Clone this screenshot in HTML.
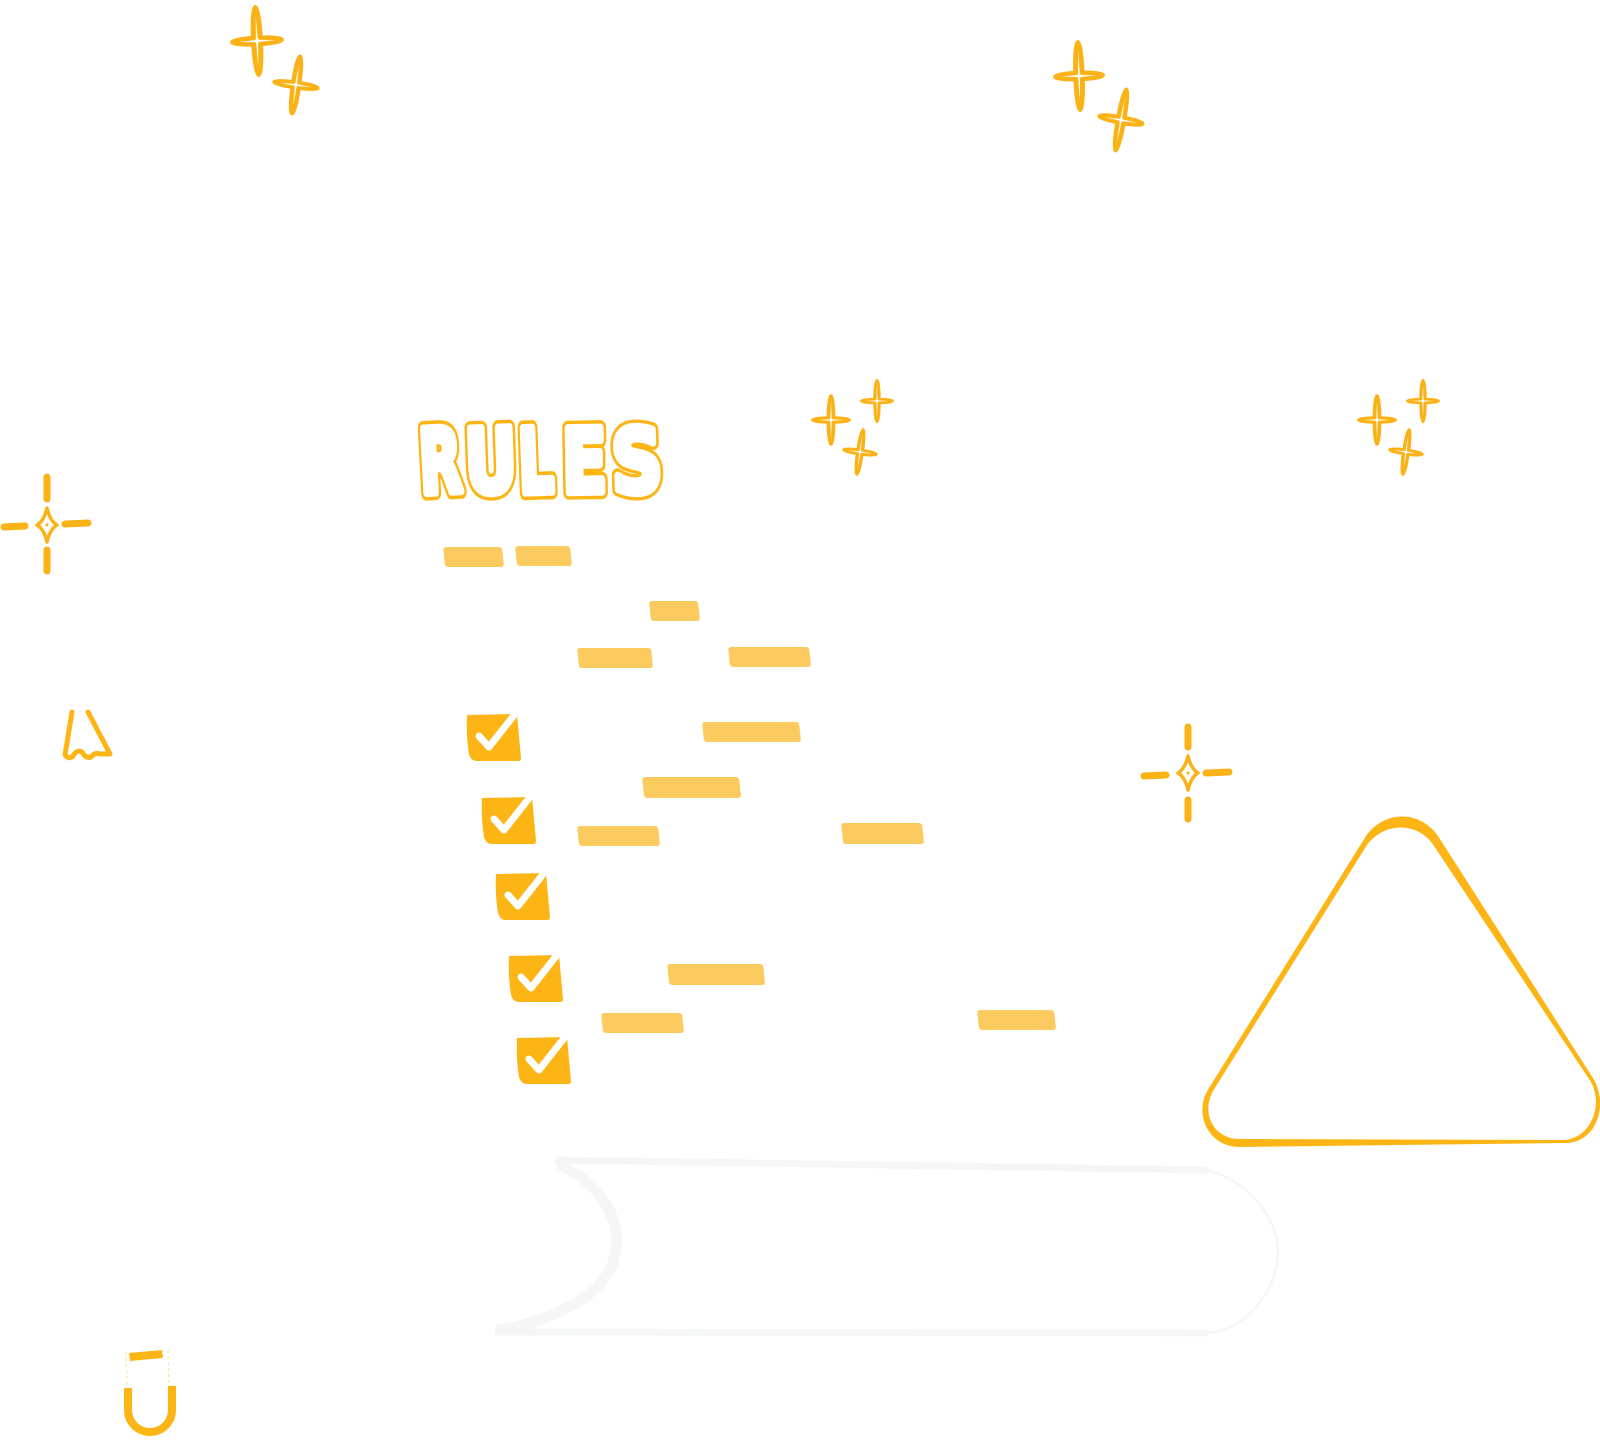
<!DOCTYPE html>
<html>
<head>
<meta charset="utf-8">
<style>
  html, body { margin: 0; padding: 0; background: #ffffff; }
  svg { display: block; }
</style>
</head>
<body>
<svg width="1600" height="1441" viewBox="0 0 1600 1441" xmlns="http://www.w3.org/2000/svg">
  <defs>
    <g id="st">
      <ellipse cx="0" cy="0" rx="3.5" ry="32" fill="#fbb217" stroke="#fbb217" stroke-width="4"/>
      <ellipse cx="0" cy="0" rx="23" ry="3" fill="#fbb217" stroke="#fbb217" stroke-width="4"/>
      <path d="M0,-24 L0.9,-1 L17,0 L0.9,1 L0,24 L-0.9,1 L-17,0 L-0.9,-1 Z" fill="#ffffff"/>
      <path d="M0,-4 L2.2,0 L0,4 L-2.2,0 Z" fill="#ffffff"/>
    </g>
    <g id="cb">
      <path d="M0,1 L50,0 L54,44 Q54,47 51,47 L10,47 Q4,47 2,40 Q-1,22 0,1 Z" fill="#fdb515"/>
      <polyline points="12,22 22,33 48,0" fill="none" stroke="#ffffff" stroke-width="7" stroke-linecap="round" stroke-linejoin="round"/>
    </g>
    <path id="dia" d="M0,-17 Q3,-4 10,0 Q3,4 0,17 Q-3,4 -10,0 Q-3,-4 0,-17 Z" fill="#ffffff" stroke="#fbb217" stroke-width="3.5" stroke-linejoin="round"/>
  </defs>

  <rect width="1600" height="1441" fill="#ffffff"/>

  <!-- faint book -->
  <g fill="none" stroke="#f5f7f6" stroke-linecap="round">
    <path d="M558,1160 L1206,1170" stroke-width="7"/>
    <path d="M562,1166 C610,1190 625,1230 612,1265 C598,1300 545,1322 500,1330" stroke-width="11"/>
    <path d="M498,1332 L1206,1333" stroke-width="7"/>
    <path d="M1206,1170 C1250,1180 1278,1220 1278,1252 C1278,1290 1245,1332 1206,1333" stroke-width="2.5"/>
  </g>

  <!-- sparkle stars -->
  <use href="#st" transform="translate(257,41) rotate(-3) scale(1.08,1.06)"/>
  <use href="#st" transform="translate(296,85) rotate(8) scale(0.96,0.91)"/>
  <use href="#st" transform="translate(1079,76) rotate(-2) scale(1.04,1.06)"/>
  <use href="#st" transform="translate(1121,120) rotate(10) scale(0.96,0.97)"/>
  <use href="#st" transform="translate(831,420) scale(0.8,0.76)"/>
  <use href="#st" transform="translate(877,401) scale(0.68,0.65)"/>
  <use href="#st" transform="translate(860,452) rotate(8) scale(0.72,0.71)"/>
  <use href="#st" transform="translate(1377,420) scale(0.8,0.76)"/>
  <use href="#st" transform="translate(1423,401) scale(0.68,0.65)"/>
  <use href="#st" transform="translate(1406,452) rotate(8) scale(0.72,0.71)"/>

  <!-- crosshair sparkles -->
  <g stroke="#fbb217" stroke-width="7" stroke-linecap="round">
    <line x1="47" y1="477" x2="47" y2="499"/>
    <line x1="47" y1="550" x2="47" y2="571"/>
    <line x1="4" y1="527" x2="25" y2="526"/>
    <line x1="65" y1="524" x2="88" y2="523"/>
    <line x1="1188" y1="727" x2="1188" y2="747"/>
    <line x1="1188" y1="800" x2="1188" y2="819"/>
    <line x1="1144" y1="776" x2="1166" y2="775"/>
    <line x1="1206" y1="773" x2="1229" y2="772"/>
  </g>
  <use href="#dia" transform="translate(47,525)"/>
  <circle cx="47" cy="525" r="1.5" fill="#fbb217"/>
  <use href="#dia" transform="translate(1188,773)"/>
  <circle cx="1188" cy="773" r="1.5" fill="#fbb217"/>

  <!-- RULES: orange outer layer -->
  <g font-family="'DejaVu Sans', 'Liberation Sans', sans-serif" font-weight="bold" font-size="88" fill="#fdb515" stroke="#fdb515" stroke-width="13" stroke-linejoin="round" text-anchor="middle">
    <text transform="translate(442,492) rotate(-3) scale(0.62,1)" vector-effect="non-scaling-stroke">R</text>
    <text transform="translate(492,492) rotate(-2) scale(0.72,1)" vector-effect="non-scaling-stroke">U</text>
    <text transform="translate(537,492) rotate(-2) scale(0.62,1)" vector-effect="non-scaling-stroke">L</text>
    <text transform="translate(585,492) rotate(-1) scale(0.74,1)" vector-effect="non-scaling-stroke">E</text>
    <text transform="translate(638,492) rotate(-2) scale(0.8,1)" vector-effect="non-scaling-stroke">S</text>
  </g>
  <!-- RULES: white inner layer -->
  <g font-family="'DejaVu Sans', 'Liberation Sans', sans-serif" font-weight="bold" font-size="88" fill="#ffffff" stroke="#ffffff" stroke-width="7" stroke-linejoin="round" text-anchor="middle">
    <text transform="translate(442,492) rotate(-3) scale(0.62,1)" vector-effect="non-scaling-stroke">R</text>
    <text transform="translate(492,492) rotate(-2) scale(0.72,1)" vector-effect="non-scaling-stroke">U</text>
    <text transform="translate(537,492) rotate(-2) scale(0.62,1)" vector-effect="non-scaling-stroke">L</text>
    <text transform="translate(585,492) rotate(-1) scale(0.74,1)" vector-effect="non-scaling-stroke">E</text>
    <text transform="translate(638,492) rotate(-2) scale(0.8,1)" vector-effect="non-scaling-stroke">S</text>
  </g>

  <!-- bars -->
  <g fill="#fccb5f">
    <rect transform="translate(443,547) skewX(6)" width="59" height="20" rx="3"/>
    <rect transform="translate(515,546) skewX(6)" width="55" height="20" rx="3"/>
    <rect transform="translate(649,601) skewX(6)" width="49" height="20" rx="3"/>
    <rect transform="translate(577,648) skewX(6)" width="74" height="20" rx="3"/>
    <rect transform="translate(728,647) skewX(6)" width="81" height="20" rx="3"/>
    <rect transform="translate(702,722) skewX(6)" width="97" height="20" rx="3"/>
    <rect transform="translate(642,777) skewX(6)" width="97" height="21" rx="3"/>
    <rect transform="translate(577,826) skewX(6)" width="81" height="20" rx="3"/>
    <rect transform="translate(841,823) skewX(6)" width="81" height="21" rx="3"/>
    <rect transform="translate(667,964) skewX(6)" width="96" height="21" rx="3"/>
    <rect transform="translate(601,1013) skewX(6)" width="81" height="20" rx="3"/>
    <rect transform="translate(977,1010) skewX(6)" width="77" height="20" rx="3"/>
  </g>

  <!-- checkboxes -->
  <use href="#cb" transform="translate(467,714)"/>
  <use href="#cb" transform="translate(482,797)"/>
  <use href="#cb" transform="translate(496,873)"/>
  <use href="#cb" transform="translate(509,955)"/>
  <use href="#cb" transform="translate(517,1037)"/>

  <!-- triangle (filled ring, variable thickness) -->
  <path fill="#fdb515" fill-rule="evenodd" d="
    M1366,836 C1384,810 1420,810 1438,836 L1593,1078 C1610,1106 1595,1145 1563,1143 L1240,1147 C1207,1147 1193,1112 1209,1088 Z
    M1367,845 C1384,822 1416,822 1432,843 L1591,1082 C1604,1106 1590,1140 1562,1140 L1240,1139 C1213,1139 1201,1113 1213,1091 Z"/>

  <!-- pencil -->
  <path d="M72,712 L65,755 Q69,760 73,756 Q77,749 82,752 Q86,759 91,757 Q95,752 100,754 L110,754 L88,712" fill="none" stroke="#fdb515" stroke-width="5" stroke-linejoin="round" stroke-linecap="round"/>

  <!-- paperclip -->
  <path d="M128,1388 L128,1410 A22,22 0 0 0 172,1410 L172,1386" fill="none" stroke="#fdb515" stroke-width="8" stroke-linecap="butt"/>
  <polygon points="129,1353 162,1350 163,1358 130,1361" fill="#fdb515"/>
  <g stroke="#fde2a6" stroke-width="1.2" stroke-dasharray="3 3">
    <line x1="126" y1="1352" x2="127" y2="1386"/>
    <line x1="168" y1="1350" x2="169" y2="1384"/>
  </g>
</svg>
</body>
</html>
